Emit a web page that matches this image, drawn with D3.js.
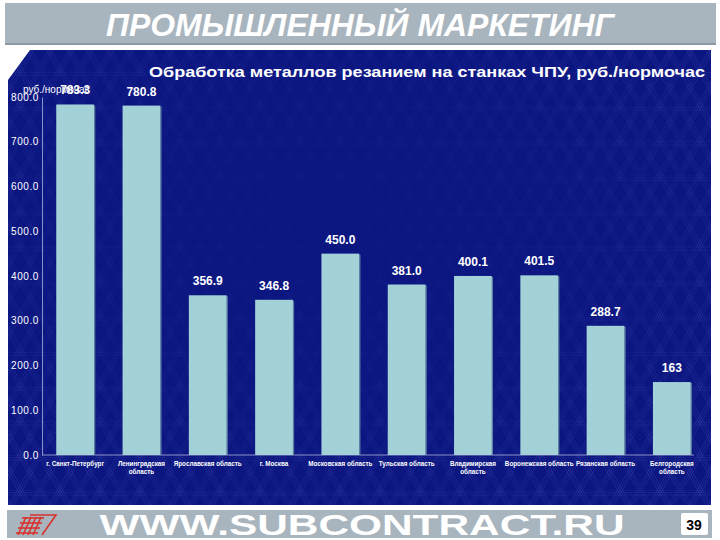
<!DOCTYPE html>
<html>
<head>
<meta charset="utf-8">
<script src="https://cdn.jsdelivr.net/npm/d3@7"></script>
<style>
  body { margin: 0; background: #fff; }
  svg { display: block; font-family: "Liberation Sans", Arial, sans-serif; }
</style>
</head>
<body>
<div id="chart"></div>
<script>
// data
var categories = [
  "г. Санкт-Петербург", "Ленинградская область", "Ярославская область", "г. Москва",
  "Московская область", "Тульская область", "Владимирская область",
  "Воронежская область", "Рязанская область", "Белгородская область"
];
var values = [783.3, 780.8, 356.9, 346.8, 450.0, 381.0, 400.1, 401.5, 288.7, 163];
var valueLabels = ["783.3", "780.8", "356.9", "346.8", "450.0", "381.0", "400.1", "401.5", "288.7", "163"];
var yTicks = [0, 100, 200, 300, 400, 500, 600, 700, 800];
// categories that wrap onto two lines
var wrapped = { "Ленинградская область": 1, "Владимирская область": 1, "Белгородская область": 1 };

var W = 720, H = 540;

var svg = d3.select("#chart").append("svg")
    .attr("width", W)
    .attr("height", H);

var defs = svg.append("defs");

// triangle lattice on the blue panel (triple thin lines)
var pat = defs.append("pattern")
    .attr("id", "lattice")
    .attr("patternUnits", "userSpaceOnUse")
    .attr("width", 40)
    .attr("height", 35);
[-2.5, 0, 2.5].forEach(function (o) {
  pat.append("path")
      .attr("d", "M" + o + ",0 L" + (20 + o) + ",35 M" + (20 + o) + ",0 L" + (40 + o) + ",35" +
                 " M" + (40 + o) + ",0 L" + (20 + o) + ",35 M" + (20 + o) + ",0 L" + o + ",35")
      .attr("fill", "none")
      .attr("stroke", "rgba(140,150,255,0.16)")
      .attr("stroke-width", 0.8);
  pat.append("line")
      .attr("x1", 0).attr("x2", 40)
      .attr("y1", 2.5 + o).attr("y2", 2.5 + o)
      .attr("stroke", "rgba(140,150,255,0.12)")
      .attr("stroke-width", 0.8);
});

// lattice fades out towards the middle of the panel
var grad = defs.append("radialGradient")
    .attr("id", "fade")
    .attr("cx", 0.45).attr("cy", 0.4).attr("r", 0.75);
grad.append("stop").attr("offset", "0").attr("stop-color", "#fff").attr("stop-opacity", 0.1);
grad.append("stop").attr("offset", "0.45").attr("stop-color", "#fff").attr("stop-opacity", 0.35);
grad.append("stop").attr("offset", "1").attr("stop-color", "#fff").attr("stop-opacity", 1);
defs.append("mask")
    .attr("id", "fadeMask")
  .append("rect")
    .attr("x", 8).attr("y", 50)
    .attr("width", 703).attr("height", 455)
    .attr("fill", "url(#fade)");

// header band
svg.append("rect")
    .attr("x", 5).attr("y", 3)
    .attr("width", 711).attr("height", 42)
    .attr("fill", "#a9b5be");
svg.append("rect")
    .attr("x", 5).attr("y", 43)
    .attr("width", 711).attr("height", 2)
    .attr("fill", "#8e9aa3");
svg.append("text")
    .attr("x", 360).attr("y", 36)
    .attr("text-anchor", "middle")
    .attr("fill", "#fff")
    .style("font-size", "32px")
    .style("font-weight", "bold")
    .style("font-style", "italic")
    .attr("textLength", 508)
    .attr("lengthAdjust", "spacingAndGlyphs")
    .text("ПРОМЫШЛЕННЫЙ МАРКЕТИНГ");

// blue panel with the cut corner
var panel = "M8,80 L30,50 L711,50 L711,505 L8,505 Z";
svg.append("path").attr("d", panel).attr("fill", "#0c1681");
svg.append("path").attr("d", panel).attr("fill", "url(#lattice)").attr("mask", "url(#fadeMask)");

// footer band
svg.append("rect")
    .attr("x", 7).attr("y", 510)
    .attr("width", 705).attr("height", 28)
    .attr("fill", "#a9b5be");
svg.append("text")
    .attr("x", 362).attr("y", 535)
    .attr("text-anchor", "middle")
    .attr("fill", "#fff")
    .style("font-size", "30px")
    .style("font-weight", "bold")
    .attr("textLength", 525)
    .attr("lengthAdjust", "spacingAndGlyphs")
    .text("WWW.SUBCONTRACT.RU");

// red logo
var logo = svg.append("g")
    .attr("fill", "none")
    .attr("stroke", "#d8322e")
    .attr("stroke-width", 1.6);
logo.append("path").attr("d", "M30,515 L56,515 L42,535");
[0, 1, 2, 3].forEach(function (i) {
  logo.append("line")
      .attr("x1", 22 - i * 2).attr("x2", 44 - i * 2)
      .attr("y1", 518 + i * 5).attr("y2", 518 + i * 5);
  logo.append("line")
      .attr("x1", 26 + i * 5).attr("x2", 18 + i * 5)
      .attr("y1", 517).attr("y2", 535);
});

// page number
svg.append("rect")
    .attr("x", 681).attr("y", 513)
    .attr("width", 27).attr("height", 22)
    .attr("rx", 2)
    .attr("fill", "#fff");
svg.append("text")
    .attr("x", 694).attr("y", 530)
    .attr("text-anchor", "middle")
    .style("font-size", "14px")
    .style("font-weight", "bold")
    .attr("fill", "#000")
    .text("39");

// chart title
svg.append("text")
    .attr("x", 705).attr("y", 77)
    .attr("text-anchor", "end")
    .attr("fill", "#fff")
    .style("font-size", "15px")
    .style("font-weight", "bold")
    .attr("textLength", 556)
    .attr("lengthAdjust", "spacingAndGlyphs")
    .text("Обработка металлов резанием на станках ЧПУ, руб./нормочас");

// scales
var x = d3.scaleBand()
    .domain(categories)
    .range([42, 705])
    .paddingInner(0.43)
    .paddingOuter(0.215);

var y = d3.scaleLinear()
    .domain([0, 800])
    .range([455, 97]);

// axes
var yAxis = d3.axisLeft(y)
    .tickValues(yTicks)
    .tickSize(0)
    .tickPadding(3)
    .tickFormat(d3.format(".1f"));

svg.append("g")
    .attr("class", "yAxis")
    .attr("transform", "translate(42,0)")
    .call(yAxis)
    .call(function (g) {
      g.select(".domain").attr("stroke", "#8a93c8");
      g.selectAll("text")
        .attr("fill", "#fff")
        .style("font-size", "10px")
        .style("letter-spacing", "0.6px")
        .style("font-family", "'Liberation Sans', Arial, sans-serif");
    });

svg.append("line")
    .attr("x1", 42).attr("x2", 694)
    .attr("y1", y(0)).attr("y2", y(0))
    .attr("stroke", "#8a93c8");

svg.append("text")
    .attr("x", 23).attr("y", 93)
    .attr("fill", "#fff")
    .style("font-size", "10px")
    .text("руб./нормочас");

// bars
var bars = svg.selectAll(".bar")
    .data(values)
  .enter().append("g")
    .attr("class", "bar");

bars.append("rect")
    .attr("x", function (d, i) { return x(categories[i]) + x.bandwidth(); })
    .attr("y", function (d) { return y(d) + 1; })
    .attr("width", 1.2)
    .attr("height", function (d) { return y(0) - y(d) - 1; })
    .attr("fill", "#5d7f9c");

bars.append("rect")
    .attr("x", function (d, i) { return x(categories[i]); })
    .attr("y", function (d) { return y(d); })
    .attr("width", x.bandwidth())
    .attr("height", function (d) { return y(0) - y(d); })
    .attr("fill", "#a2d1d8");

bars.append("text")
    .attr("x", function (d, i) { return x(categories[i]) + x.bandwidth() / 2; })
    .attr("y", function (d) { return y(d) - 10; })
    .attr("text-anchor", "middle")
    .attr("fill", "#fff")
    .style("font-size", "12px")
    .style("font-weight", "bold")
    .text(function (d, i) { return valueLabels[i]; });

// category labels
var catLabels = svg.selectAll(".catLabel")
    .data(categories)
  .enter().append("text")
    .attr("class", "catLabel")
    .attr("x", function (d) { return x(d) + x.bandwidth() / 2; })
    .attr("y", 466)
    .attr("text-anchor", "middle")
    .attr("fill", "#fff")
    .style("font-size", "6.3px")
    .style("font-weight", "bold");

catLabels.each(function (d) {
  var t = d3.select(this);
  if (wrapped[d]) {
    var parts = d.split(" ");
    t.append("tspan").attr("x", t.attr("x")).text(parts[0]);
    t.append("tspan").attr("x", t.attr("x")).attr("dy", 8).text(parts[1]);
  } else {
    t.text(d);
  }
});
</script>
</body>
</html>
